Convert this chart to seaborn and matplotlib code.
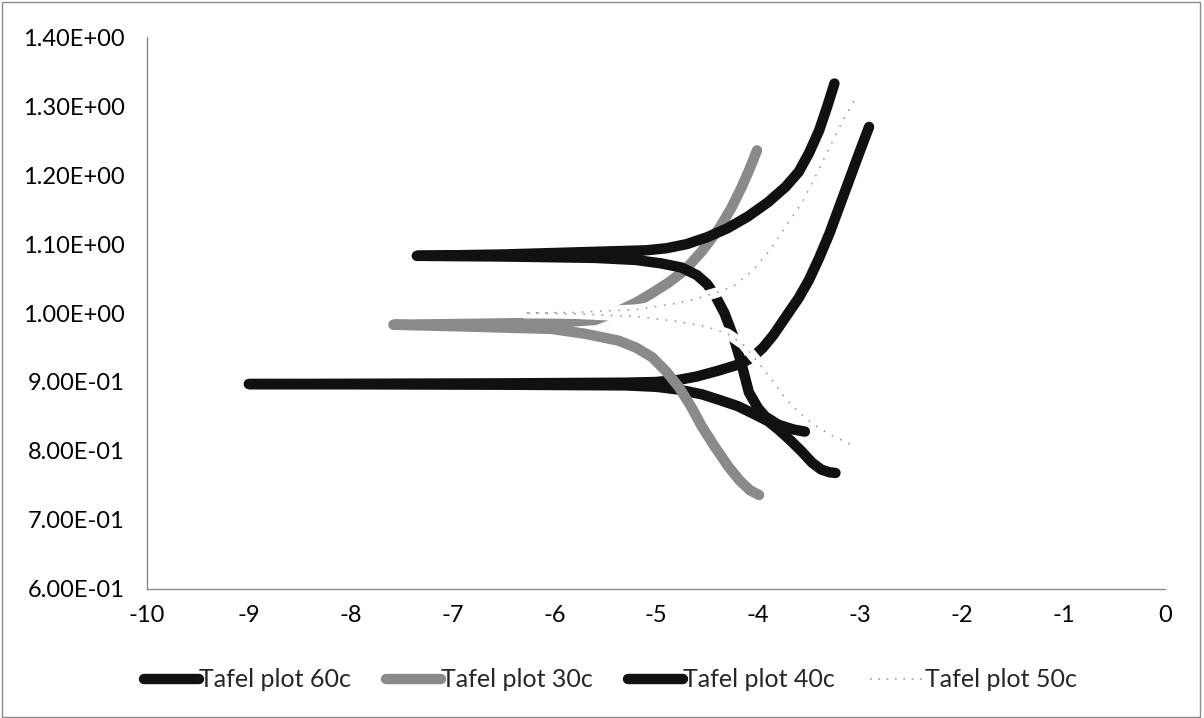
import matplotlib
matplotlib.use("Agg")
import matplotlib.pyplot as plt
from matplotlib.lines import Line2D
from matplotlib.patches import Rectangle
import seaborn as sns
import pandas as pd

sns.set_theme(style="white")
plt.rcParams["font.family"] = ["Lato", "DejaVu Sans"]

# Tafel sweeps: log10(current density) vs potential, in sweep order
# (cathodic end -> spike at corrosion potential -> anodic end)
logi_60c = [-3.54, -3.65, -3.80, -3.93, -4.00, -4.09, -4.16, -4.24, -4.33, -4.42, -4.50, -4.60, -4.75,
            -4.95, -5.20, -5.60, -6.50, -7.35,
            -6.50, -5.10, -4.90, -4.70, -4.50, -4.30, -4.10, -3.90, -3.73, -3.60, -3.50, -3.40, -3.32, -3.25]
pot_60c = [0.828, 0.831, 0.838, 0.850, 0.862, 0.885, 0.925, 0.965, 1.000, 1.025, 1.042, 1.055, 1.066,
           1.072, 1.077, 1.080, 1.082, 1.083,
           1.085, 1.091, 1.094, 1.100, 1.110, 1.123, 1.140, 1.161, 1.183, 1.205, 1.232, 1.265, 1.300, 1.333]

logi_30c = [-3.99, -4.08, -4.18, -4.29, -4.42, -4.55, -4.66, -4.78, -4.90, -5.04, -5.20, -5.37, -5.70,
            -6.03, -7.00, -7.58,
            -7.00, -6.00, -5.60, -5.37, -5.20, -5.04, -4.88, -4.72, -4.55, -4.38, -4.26, -4.16, -4.08, -4.01]
pot_30c = [0.736, 0.743, 0.757, 0.777, 0.805, 0.835, 0.865, 0.893, 0.915, 0.936, 0.950, 0.960, 0.970,
           0.977, 0.981, 0.983,
           0.984, 0.986, 0.990, 1.003, 1.015, 1.029, 1.044, 1.062, 1.090, 1.123, 1.153, 1.183, 1.210, 1.236]

logi_40c = [-3.24, -3.30, -3.38, -3.47, -3.57, -3.68, -3.80, -3.90, -4.06, -4.20, -4.38, -4.55, -4.78,
            -5.00, -5.30, -6.50, -9.00,
            -6.50, -5.30, -5.00, -4.78, -4.60, -4.40, -4.20, -4.06, -3.95, -3.85, -3.73, -3.60, -3.50,
            -3.40, -3.30, -3.20, -3.10, -3.00, -2.91]
pot_40c = [0.768, 0.769, 0.773, 0.783, 0.799, 0.815, 0.831, 0.843, 0.855, 0.865, 0.874, 0.882, 0.889,
           0.893, 0.895, 0.896, 0.897,
           0.898, 0.899, 0.900, 0.903, 0.908, 0.916, 0.925, 0.935, 0.950, 0.968, 0.994, 1.022, 1.048,
           1.080, 1.115, 1.155, 1.195, 1.235, 1.270]

logi_50c = [-3.10, -3.30, -3.47, -3.60, -3.73, -3.85, -3.99, -4.15, -4.30, -4.50, -4.80, -5.20, -5.80, -6.30,
            -5.80, -5.20, -4.80, -4.60, -4.40, -4.23, -4.05, -3.89, -3.73, -3.57, -3.43, -3.30, -3.17, -3.04]
pot_50c = [0.810, 0.824, 0.840, 0.856, 0.876, 0.900, 0.927, 0.955, 0.970, 0.980, 0.988, 0.995, 0.999, 1.000,
           1.001, 1.005, 1.014, 1.021, 1.030, 1.040, 1.062, 1.090, 1.125, 1.160, 1.200, 1.240, 1.278, 1.313]

series_names = ["Tafel plot 60c", "Tafel plot 30c", "Tafel plot 40c", "Tafel plot 50c"]
x_ticks = list(range(-10, 1))
y_ticks = [0.6, 0.7, 0.8, 0.9, 1.0, 1.1, 1.2, 1.3, 1.4]

fig = plt.figure(figsize=(12.04, 7.18), dpi=100)
ax = fig.add_axes([0.122, 0.18, 0.846, 0.768])

LW = 7.5
common = dict(sort=False, estimator=None, legend=False, ax=ax)
solid = dict(solid_capstyle="round", solid_joinstyle="round")


def draw(xs, ys, **kw):
    df = pd.DataFrame({"logi": xs, "E": ys})
    sns.lineplot(data=df, x="logi", y="E", **common, **kw)


draw(logi_40c, pot_40c, color="#111111", linewidth=LW, zorder=3, **solid)
draw(logi_30c, pot_30c, color="#8a8a8a", linewidth=LW, zorder=4, **solid)
draw(logi_60c, pot_60c, color="#111111", linewidth=LW, zorder=5, **solid)
# 50c: pale textured band drawn on top
draw(logi_50c, pot_50c, color="white", linewidth=LW, zorder=6, **solid)
draw(logi_50c, pot_50c, color="#8f8f8f", linewidth=1.1, linestyle=(0, (1, 5)), zorder=7)

ax.set_xlim(-10, 0)
ax.set_ylim(0.6, 1.4)
ax.set_xticks(x_ticks)
ax.set_xticklabels([str(v) for v in x_ticks])
ax.set_yticks(y_ticks)
ax.set_yticklabels([f"{v:.2E}" for v in y_ticks])
ax.set_xlabel("")
ax.set_ylabel("")

for side in ("top", "right"):
    ax.spines[side].set_visible(False)
for side in ("left", "bottom"):
    ax.spines[side].set_color("#8a8a8a")
    ax.spines[side].set_linewidth(1.0)

ax.tick_params(axis="x", length=0, pad=12, labelsize=17, colors="black")
ax.tick_params(axis="y", length=4, width=1, color="#8a8a8a", direction="out", pad=12, labelsize=17,
               labelcolor="black")
ax.grid(False)

handles = [
    Line2D([], [], color="#111111", linewidth=LW, solid_capstyle="round"),
    Line2D([], [], color="#8a8a8a", linewidth=LW, solid_capstyle="round"),
    Line2D([], [], color="#111111", linewidth=LW, solid_capstyle="round"),
    Line2D([], [], color="#9a9a9a", linewidth=1.2, linestyle=(0, (1, 4))),
]
fig.legend(handles, series_names, loc="center", bbox_to_anchor=(0.507, 0.053), ncol=4, frameon=False,
           fontsize=18, handlelength=2.2, handletextpad=0.0, columnspacing=1.4)

fig.patches.append(Rectangle((0.002, 0.002), 0.995, 0.995, transform=fig.transFigure, fill=False,
                             edgecolor="#8a8a8a", linewidth=1.0))

fig.savefig("out.png", dpi=100, facecolor="white")
